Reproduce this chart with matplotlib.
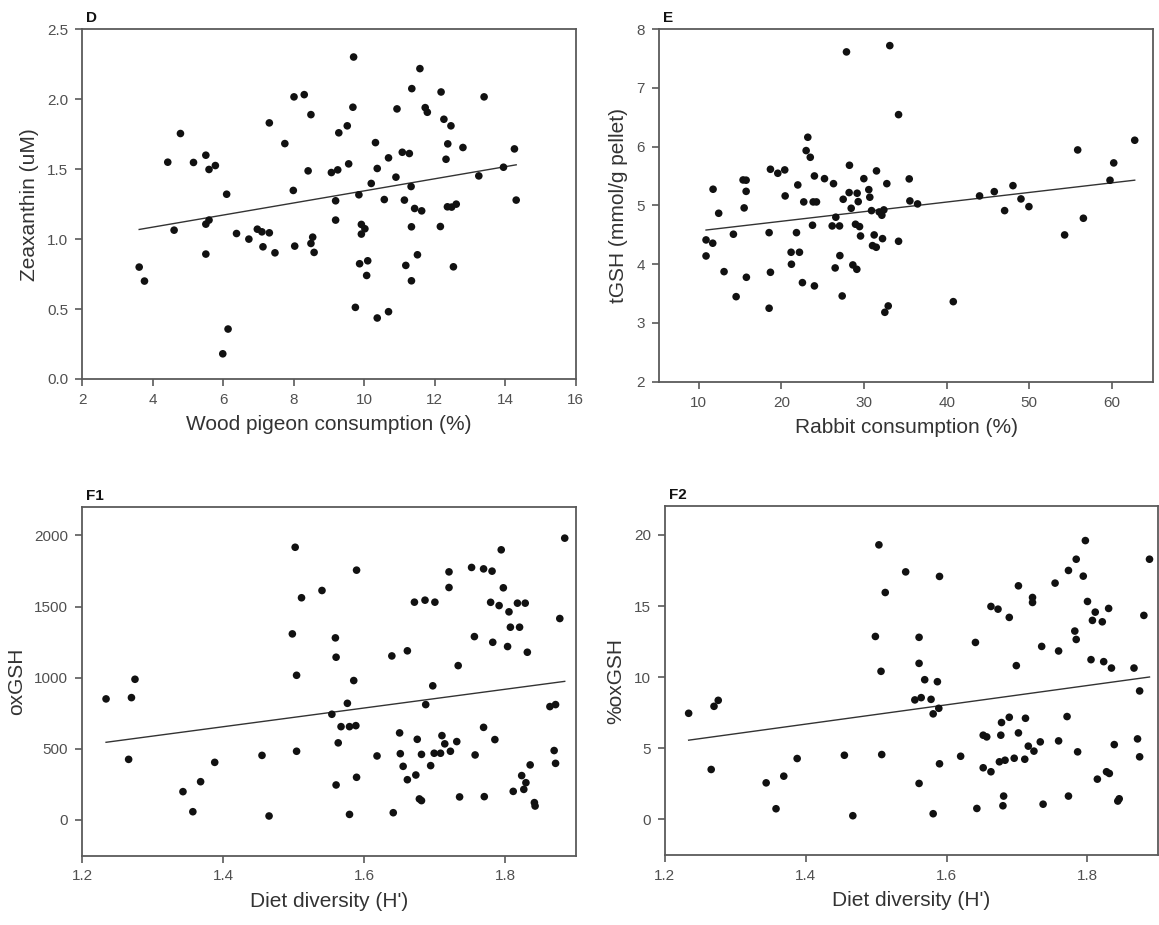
import matplotlib
matplotlib.use('Agg')
import matplotlib.pyplot as plt
import numpy as np

plt.rcParams['font.family'] = ['Liberation Sans', 'DejaVu Sans']

# D: zeaxanthin vs wood pigeon consumption
d_x = [3.62, 3.77, 4.43, 4.79, 4.61, 5.16, 5.51, 5.60, 5.78, 5.51, 5.51, 5.60, 6.10, 5.99, 6.14,
       6.38, 6.73, 6.97, 7.10, 7.31, 7.13, 7.47, 7.31, 7.75, 8.01, 7.99, 8.03, 8.30, 8.49, 8.41,
       8.54, 8.49, 8.58, 9.70, 9.68, 9.52, 9.28, 9.56, 9.25, 9.07, 9.19, 9.19, 9.85, 9.92, 10.02,
       9.92, 9.87, 10.10, 10.07, 9.75, 10.37, 10.69, 10.32, 10.37, 10.20, 10.69, 10.57, 10.90,
       10.93, 11.08, 11.28, 11.35, 11.58, 11.33, 11.14, 11.43, 11.63, 11.34, 11.51, 11.18, 11.34,
       11.73, 11.79, 12.18, 12.26, 12.46, 12.37, 12.80, 12.32, 12.36, 12.48, 12.61, 12.16, 12.53,
       13.40, 13.25, 13.95, 14.26, 14.31]
d_y = [0.80, 0.70, 1.55, 1.755, 1.064, 1.548, 1.60, 1.498, 1.526, 0.893, 1.107, 1.136, 1.321, 0.18,
       0.357, 1.04, 1.00, 1.071, 1.052, 1.045, 0.945, 0.902, 1.831, 1.683, 2.017, 1.348, 0.95,
       2.033, 1.89, 1.488, 1.014, 0.969, 0.905, 2.302, 1.943, 1.81, 1.76, 1.538, 1.495, 1.476,
       1.274, 1.136, 1.317, 1.105, 1.074, 1.036, 0.824, 0.845, 0.74, 0.512, 0.436, 0.481, 1.69,
       1.505, 1.398, 1.581, 1.283, 1.443, 1.931, 1.621, 1.612, 2.076, 2.219, 1.376, 1.279, 1.219,
       1.202, 1.088, 0.888, 0.812, 0.702, 1.94, 1.907, 2.052, 1.857, 1.81, 1.681, 1.655, 1.571,
       1.231, 1.229, 1.25, 1.09, 0.802, 2.017, 1.452, 1.514, 1.645, 1.279]

# E: tGSH vs rabbit consumption
e_x = [10.89, 10.89, 11.74, 12.42, 11.70, 13.07, 14.20, 14.53, 15.37, 15.74, 15.74, 15.50, 15.77,
       18.52, 18.68, 19.57, 20.41, 18.68, 18.52, 20.46, 21.99, 21.83, 21.18, 22.19, 21.22, 22.55,
       24.00, 23.20, 23.00, 23.50, 24.00, 22.71, 23.85, 24.25, 23.77, 25.22, 26.31, 26.59, 26.15,
       27.04, 26.51, 27.08, 27.36, 27.88, 28.24, 27.48, 28.20, 29.17, 29.30, 28.45, 28.97, 29.46,
       28.65, 29.13, 29.58, 29.98, 30.58, 30.70, 30.91, 31.23, 31.03, 31.48, 31.51, 31.84, 32.16,
       32.40, 32.24, 32.76, 33.12, 34.18, 34.18, 35.47, 35.55, 36.48, 32.93, 32.52, 40.80, 43.98,
       45.76, 48.02, 47.01, 48.99, 49.95, 54.27, 55.85, 56.54, 59.76, 60.21, 62.75]
e_y = [4.413, 4.14, 5.276, 4.867, 4.357, 3.873, 4.51, 3.447, 5.434, 5.43, 5.24, 4.958, 3.777,
       4.537, 5.616, 5.548, 5.605, 3.862, 3.25, 5.162, 5.349, 4.537, 4.203, 4.203, 3.999, 3.686,
       3.63, 6.161, 5.934, 5.82, 5.502, 5.06, 5.06, 5.06, 4.663, 5.456, 5.371, 4.80, 4.651, 4.651,
       3.936, 4.146, 3.459, 7.614, 5.684, 5.105, 5.219, 5.208, 5.065, 4.952, 4.68, 4.64, 3.987,
       3.913, 4.48, 5.456, 5.269, 5.14, 4.912, 4.498, 4.316, 4.288, 5.588, 4.889, 4.833, 4.924,
       4.435, 5.371, 7.721, 6.546, 4.39, 5.452, 5.077, 5.026, 3.289, 3.181, 3.362, 5.162, 5.235,
       5.337, 4.912, 5.111, 4.98, 4.498, 5.945, 4.782, 5.429, 5.724, 6.11]

# F1: oxGSH vs diet diversity
f1_x = [1.234, 1.270, 1.275, 1.266, 1.343, 1.368, 1.357, 1.388, 1.455, 1.465, 1.502, 1.498, 1.504,
        1.504, 1.511, 1.540, 1.589, 1.559, 1.560, 1.585, 1.576, 1.554, 1.567, 1.579, 1.588, 1.563,
        1.560, 1.589, 1.579, 1.639, 1.661, 1.618, 1.641, 1.650, 1.651, 1.655, 1.661, 1.673, 1.671,
        1.686, 1.700, 1.675, 1.681, 1.678, 1.681, 1.687, 1.697, 1.694, 1.699, 1.708, 1.710, 1.714,
        1.722, 1.731, 1.720, 1.720, 1.733, 1.735, 1.752, 1.769, 1.781, 1.756, 1.757, 1.769, 1.770,
        1.779, 1.791, 1.782, 1.785, 1.794, 1.797, 1.805, 1.807, 1.803, 1.811, 1.817, 1.828, 1.820,
        1.831, 1.884, 1.877, 1.863, 1.871, 1.869, 1.871, 1.835, 1.823, 1.829, 1.826, 1.841, 1.842]
f1_y = [851, 860, 989, 426, 199, 269, 58, 405, 454, 28, 1917, 1308, 1017, 483, 1562, 1613, 1756,
        1280, 1144, 980, 820, 743, 656, 656, 663, 542, 246, 300, 39, 1153, 1189, 450, 51, 612, 466,
        377, 283, 316, 1531, 1545, 1531, 567, 461, 148, 136, 811, 943, 382, 469, 469, 593, 535, 483,
        551, 1744, 1634, 1085, 162, 1775, 1765, 1749, 1289, 457, 651, 164, 1530, 1507, 1249, 565,
        1899, 1632, 1463, 1355, 1219, 201, 1524, 1524, 1355, 1179, 1981, 1416, 797, 811, 488, 398,
        387, 312, 262, 215, 122, 98]

# F2: %oxGSH vs diet diversity
f2_x = [1.234, 1.270, 1.276, 1.266, 1.344, 1.369, 1.358, 1.388, 1.455, 1.467, 1.504, 1.499, 1.507,
        1.513, 1.508, 1.542, 1.590, 1.561, 1.561, 1.569, 1.587, 1.555, 1.564, 1.578, 1.589, 1.581,
        1.590, 1.561, 1.581, 1.641, 1.620, 1.643, 1.652, 1.657, 1.652, 1.663, 1.663, 1.673, 1.689,
        1.678, 1.689, 1.677, 1.675, 1.683, 1.681, 1.680, 1.699, 1.702, 1.702, 1.696, 1.712, 1.711,
        1.716, 1.724, 1.733, 1.722, 1.722, 1.735, 1.737, 1.754, 1.759, 1.759, 1.773, 1.784, 1.782,
        1.784, 1.771, 1.773, 1.786, 1.797, 1.794, 1.800, 1.811, 1.807, 1.821, 1.830, 1.805, 1.823,
        1.834, 1.866, 1.880, 1.888, 1.874, 1.871, 1.874, 1.838, 1.827, 1.831, 1.814, 1.843, 1.845]
f2_y = [7.46, 7.95, 8.37, 3.51, 2.57, 3.04, 0.75, 4.28, 4.51, 0.26, 19.30, 12.86, 10.41, 15.95,
        4.56, 17.40, 17.08, 12.80, 10.97, 9.82, 9.68, 8.40, 8.56, 8.44, 7.81, 7.42, 3.91, 2.53, 0.40,
        12.44, 4.44, 0.77, 5.92, 5.80, 3.63, 3.35, 14.97, 14.78, 14.20, 6.81, 7.18, 5.92, 4.05, 4.16,
        1.64, 0.96, 10.81, 16.42, 6.08, 4.30, 7.11, 4.23, 5.15, 4.80, 5.45, 15.60, 15.25, 12.16,
        1.07, 16.61, 11.84, 5.52, 17.50, 18.29, 13.24, 12.65, 7.23, 1.64, 4.75, 19.60, 17.10, 15.32,
        14.57, 13.99, 13.89, 14.83, 11.23, 11.09, 10.64, 10.64, 14.34, 18.29, 9.03, 5.66, 4.40, 5.26,
        3.35, 3.23, 2.83, 1.29, 1.45]

# regression lines (intercept, slope)
fit_d = (0.9125, 0.04324)
fit_e = (4.403, 0.01637)
fit_f1 = (-267.2, 659.0)
fit_f2 = (-2.809, 6.79)

fig = plt.figure(figsize=(11.59, 9.25), dpi=100)

axis_col = '#5a5a5a'
tick_col = '#505050'


def panel(rect, x, y, fit, letter, xlabel, ylabel, xlim, ylim, xticks, yticks, yfmt):
    ax = fig.add_axes(rect)
    ax.scatter(x, y, s=30, color='#111111', edgecolors='none', zorder=3)
    xs = np.array([min(x), max(x)])
    ax.plot(xs, fit[0] + fit[1] * xs, color='#333333', lw=1.0, zorder=2)
    ax.set_xlim(*xlim)
    ax.set_ylim(*ylim)
    ax.set_xticks(xticks)
    ax.set_yticks(yticks)
    ax.set_yticklabels([yfmt.format(v) for v in yticks])
    if isinstance(xticks[0], float):
        ax.set_xticklabels(['{:.1f}'.format(v) for v in xticks])
    for sp in ax.spines.values():
        sp.set_color(axis_col)
        sp.set_linewidth(1.3)
    ax.tick_params(direction='out', length=5, width=1.2, color=axis_col,
                   labelcolor=tick_col, labelsize=11, top=False, right=False, pad=5)
    ax.set_xlabel(xlabel, fontsize=15, color='#333333', labelpad=6)
    ax.set_ylabel(ylabel, fontsize=15, color='#333333', labelpad=6)
    ax.text(0.008, 1.012, letter, transform=ax.transAxes, fontsize=11, fontweight='bold',
            ha='left', va='bottom', color='#111111')
    return ax


panel([0.0708, 0.5903, 0.426, 0.378], d_x, d_y, fit_d, 'D',
      'Wood pigeon consumption (%)', 'Zeaxanthin (uM)',
      (2, 16), (0, 2.5), [2, 4, 6, 8, 10, 12, 14, 16], [0, 0.5, 1.0, 1.5, 2.0, 2.5], '{:.1f}')

panel([0.5686, 0.5874, 0.4265, 0.381], e_x, e_y, fit_e, 'E',
      'Rabbit consumption (%)', 'tGSH (mmol/g pellet)',
      (5.2, 65), (2, 8), [10, 20, 30, 40, 50, 60], [2, 3, 4, 5, 6, 7, 8], '{:d}')

panel([0.0708, 0.0751, 0.4262, 0.3768], f1_x, f1_y, fit_f1, 'F1',
      "Diet diversity (H')", 'oxGSH',
      (1.2, 1.9), (-250, 2200), [1.2, 1.4, 1.6, 1.8], [0, 500, 1000, 1500, 2000], '{:d}')

panel([0.5735, 0.0757, 0.4256, 0.3768], f2_x, f2_y, fit_f2, 'F2',
      "Diet diversity (H')", '%oxGSH',
      (1.2, 1.9), (-2.5, 22), [1.2, 1.4, 1.6, 1.8], [0, 5, 10, 15, 20], '{:d}')

fig.savefig('out.png', dpi=100, facecolor='white')
